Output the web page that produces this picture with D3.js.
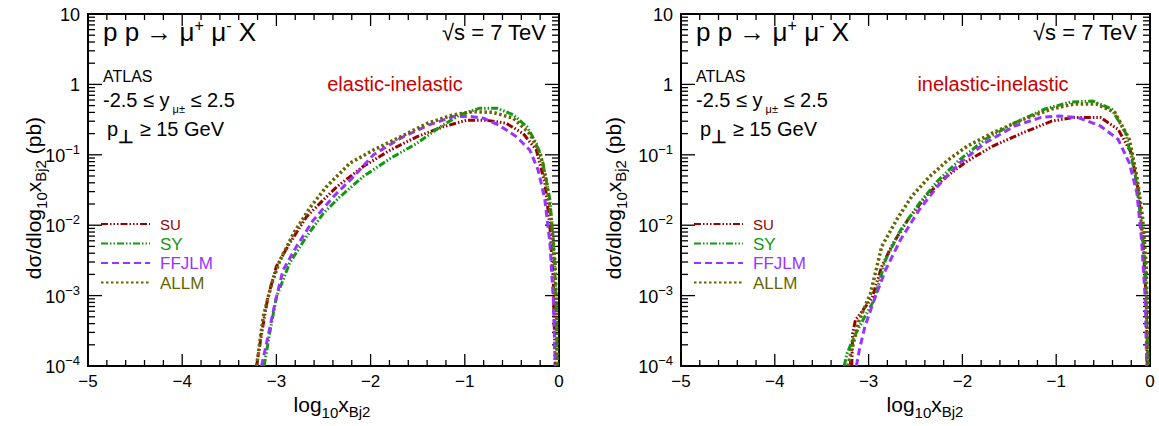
<!DOCTYPE html>
<html>
<head>
<meta charset="utf-8">
<script src="https://cdn.jsdelivr.net/npm/d3@7.9.0/dist/d3.min.js"></script>
<style>
  body { margin: 0; background: #fff; }
  svg { font-family: "Liberation Sans", Arial, sans-serif; }
</style>
</head>
<body>
<svg id="chart" width="1159" height="426"></svg>
<script>
// ---- data (x = log10 xBj2, y in pb) ----
const models = ['SU', 'SY', 'FFJLM', 'ALLM'];
const panelLabels = ['elastic-inelastic', 'inelastic-inelastic'];
const xTicks = [-5, -4, -3, -2, -1, 0];
const yDecades = [-4, -3, -2, -1, 0, 1];

// elastic-inelastic
const elSU_x = [-3.21, -3.157, -3.09, -3.0, -2.86, -2.68, -2.50, -2.36, -2.08, -1.79, -1.51, -1.23, -0.98, -0.77, -0.56, -0.38, -0.24, -0.15, -0.096, -0.06, -0.04];
const elSU_y = [1e-4, 2.9e-4, 9.5e-4, 2.6e-3, 5.5e-3, 0.0132, 0.023, 0.035, 0.068, 0.117, 0.18, 0.25, 0.31, 0.31, 0.28, 0.20, 0.117, 0.040, 9.5e-3, 1.48e-3, 1e-4];
const elSY_x = [-3.13, -3.07, -3.0, -2.86, -2.68, -2.50, -2.33, -2.08, -1.79, -1.51, -1.26, -1.05, -0.84, -0.66, -0.485, -0.34, -0.24, -0.17, -0.096, -0.06, -0.03, -0.02];
const elSY_y = [1e-4, 3.0e-4, 9.5e-4, 2.9e-3, 6.9e-3, 0.0148, 0.025, 0.049, 0.089, 0.145, 0.25, 0.37, 0.46, 0.46, 0.37, 0.25, 0.145, 0.076, 0.023, 5.5e-3, 8.7e-4, 1e-4];
const elFF_x = [-3.157, -3.09, -3.015, -2.93, -2.79, -2.61, -2.40, -2.18, -1.97, -1.69, -1.40, -1.12, -0.945, -0.80, -0.63, -0.45, -0.31, -0.22, -0.15, -0.096, -0.06, -0.04];
const elFF_y = [1e-4, 2.6e-4, 7.8e-4, 2.3e-3, 4.9e-3, 0.0117, 0.025, 0.049, 0.10, 0.17, 0.26, 0.35, 0.35, 0.33, 0.26, 0.18, 0.117, 0.060, 0.023, 5.5e-3, 8.7e-4, 1e-4];
const elAL_x = [-3.21, -3.14, -3.05, -2.96, -2.82, -2.64, -2.47, -2.22, -1.97, -1.72, -1.40, -1.12, -0.91, -0.70, -0.485, -0.31, -0.20, -0.13, -0.078, -0.04, -0.025, -0.02];
const elAL_y = [1e-4, 5.0e-4, 1.48e-3, 3.2e-3, 7.6e-3, 0.018, 0.035, 0.076, 0.117, 0.17, 0.28, 0.37, 0.41, 0.40, 0.33, 0.20, 0.105, 0.040, 0.0107, 2.6e-3, 5.0e-4, 1e-4];

// inelastic-inelastic
const inSU_x = [-3.18, -3.17, -3.14, -3.06, -2.96, -2.86, -2.74, -2.58, -2.39, -2.19, -1.95, -1.68, -1.36, -1.05, -0.81, -0.53, -0.34, -0.20, -0.12, -0.07, -0.04, -0.03];
const inSU_y = [1e-4, 2.9e-4, 4.5e-4, 6.2e-4, 9.5e-4, 2.6e-3, 5.5e-3, 0.012, 0.0257, 0.047, 0.081, 0.132, 0.204, 0.30, 0.34, 0.34, 0.23, 0.107, 0.029, 4.5e-3, 8.7e-4, 1e-4];
const inSY_x = [-3.26, -3.23, -3.155, -3.06, -2.94, -2.82, -2.66, -2.46, -2.27, -2.03, -1.755, -1.44, -1.12, -0.85, -0.61, -0.41, -0.26, -0.16, -0.10, -0.05, -0.02];
const inSY_y = [1e-4, 1.5e-4, 2.6e-4, 4.5e-4, 8.7e-4, 3.2e-3, 8.5e-3, 0.0204, 0.0417, 0.085, 0.166, 0.285, 0.447, 0.56, 0.58, 0.447, 0.204, 0.055, 0.0132, 2.6e-3, 1e-4];
const inFF_x = [-3.13, -3.10, -3.04, -2.94, -2.82, -2.66, -2.46, -2.27, -2.03, -1.755, -1.44, -1.16, -0.97, -0.77, -0.53, -0.34, -0.22, -0.14, -0.09, -0.05, -0.035];
const inFF_y = [1e-4, 1.66e-4, 3.6e-4, 8.7e-4, 2.3e-3, 6.2e-3, 0.0166, 0.035, 0.076, 0.148, 0.257, 0.34, 0.355, 0.34, 0.257, 0.166, 0.076, 0.029, 6.2e-3, 8.7e-4, 1e-4];
const inAL_x = [-3.22, -3.19, -3.10, -2.98, -2.86, -2.70, -2.54, -2.35, -2.15, -1.95, -1.68, -1.36, -1.05, -0.81, -0.57, -0.375, -0.22, -0.14, -0.08, -0.04, -0.02];
const inAL_y = [1e-4, 1.5e-4, 4.5e-4, 1.07e-3, 5.0e-3, 0.012, 0.0257, 0.049, 0.085, 0.132, 0.204, 0.316, 0.447, 0.525, 0.525, 0.40, 0.166, 0.049, 0.0132, 2.6e-3, 1e-4];

const panelSeries = [
  [[elSU_x, elSU_y], [elSY_x, elSY_y], [elFF_x, elFF_y], [elAL_x, elAL_y]],
  [[inSU_x, inSU_y], [inSY_x, inSY_y], [inFF_x, inFF_y], [inAL_x, inAL_y]]
];

const styles = {
  SU:    { color: '#990000', dash: '7,2,1.5,2,1.5,2,1.5,2', width: 3, font: 15 },
  SY:    { color: '#119911', dash: '7,2,1.5,2,1.5,2', width: 3, font: 17 },
  FFJLM: { color: '#9933ff', dash: '7,4', width: 3, font: 17 },
  ALLM:  { color: '#666600', dash: '2.5,2.5', width: 3.5, font: 17 }
};

const svg = d3.select('#chart');
const panels = [
  { left: 88, right: 559, ytitle: 41, label: 395 },
  { left: 681, right: 1150, ytitle: 621, label: 993 }
];
const plotTop = 14, plotBottom = 366;

panels.forEach((p, pi) => {
  const x = d3.scaleLinear().domain([-5, 0]).range([p.left, p.right]);
  const y = d3.scaleLog().domain([1e-4, 10]).range([plotBottom, plotTop]);
  const g = svg.append('g');

  // clip
  const clipId = 'clip' + pi;
  svg.append('clipPath').attr('id', clipId)
    .append('rect').attr('x', p.left).attr('y', plotTop)
    .attr('width', p.right - p.left).attr('height', plotBottom - plotTop);

  // x ticks (bottom & top, inward)
  const xMinor = d3.range(-5, 0.001, 0.2).map(v => Math.round(v * 10) / 10);
  xMinor.forEach(v => {
    const major = Math.abs(v - Math.round(v)) < 1e-6;
    const len = major ? 12 : 6;
    g.append('line').attr('x1', x(v)).attr('x2', x(v)).attr('y1', plotBottom).attr('y2', plotBottom - len)
      .attr('stroke', '#000').attr('stroke-width', 1.3);
    g.append('line').attr('x1', x(v)).attr('x2', x(v)).attr('y1', plotTop).attr('y2', plotTop + len)
      .attr('stroke', '#000').attr('stroke-width', 1.3);
  });

  // y ticks (left & right, inward), log minor ticks
  yDecades.forEach(d => {
    const base = Math.pow(10, d);
    const ks = d === 1 ? [1] : [1, 2, 3, 4, 5, 6, 7, 8, 9];
    ks.forEach(k => {
      const v = k * base;
      const len = k === 1 ? 14 : 7;
      g.append('line').attr('x1', p.left).attr('x2', p.left + len).attr('y1', y(v)).attr('y2', y(v))
        .attr('stroke', '#000').attr('stroke-width', 1.3);
      g.append('line').attr('x1', p.right).attr('x2', p.right - len).attr('y1', y(v)).attr('y2', y(v))
        .attr('stroke', '#000').attr('stroke-width', 1.3);
    });
  });

  // frame
  g.append('rect').attr('x', p.left).attr('y', plotTop)
    .attr('width', p.right - p.left).attr('height', plotBottom - plotTop)
    .attr('fill', 'none').attr('stroke', '#000').attr('stroke-width', 2);

  // x tick labels
  xTicks.forEach(v => {
    g.append('text').attr('x', x(v)).attr('y', plotBottom + 21)
      .attr('text-anchor', 'middle').attr('font-size', 17)
      .text(v < 0 ? '\u2212' + Math.abs(v) : v);
  });

  // y tick labels
  yDecades.forEach(d => {
    const t = g.append('text').attr('x', p.left - 8).attr('y', y(Math.pow(10, d)) + 7)
      .attr('text-anchor', 'end').attr('font-size', 18);
    if (d === 0) t.text('1');
    else if (d === 1) t.text('10');
    else {
      t.append('tspan').text('10');
      t.append('tspan').attr('dy', -8).attr('font-size', 13).text('\u2212' + Math.abs(d));
    }
  });

  // axis titles
  const xt = g.append('text').attr('x', p.left + 244).attr('y', 412)
    .attr('text-anchor', 'middle').attr('font-size', 21);
  xt.append('tspan').text('log');
  xt.append('tspan').attr('dy', 6).attr('font-size', 15).text('10');
  xt.append('tspan').attr('dy', -6).text('x');
  xt.append('tspan').attr('dy', 5).attr('font-size', 15).text('Bj2');

  const yt = g.append('text')
    .attr('transform', `translate(${p.ytitle},${198}) rotate(-90)`)
    .attr('text-anchor', 'middle').attr('font-size', 21);
  yt.append('tspan').text('d\u03c3/dlog');
  yt.append('tspan').attr('dy', 6).attr('font-size', 15).text('10');
  yt.append('tspan').attr('dy', -6).text('x');
  yt.append('tspan').attr('dy', 5).attr('font-size', 15).text('Bj2');
  yt.append('tspan').attr('dy', -5).text(' (pb)');

  // process label
  const pr = g.append('text').attr('x', p.left + 15).attr('y', 41).attr('font-size', 26);
  pr.append('tspan').text('p p \u2192 \u03bc');
  pr.append('tspan').attr('dy', -10).attr('font-size', 16).text('+');
  pr.append('tspan').attr('dy', 10).text(' \u03bc');
  pr.append('tspan').attr('dy', -10).attr('font-size', 16).text('-');
  pr.append('tspan').attr('dy', 10).text(' X');

  g.append('text').attr('x', p.right - 13).attr('y', 40).attr('text-anchor', 'end')
    .attr('font-size', 22).text('\u221as = 7 TeV');

  // cuts
  g.append('text').attr('x', p.left + 15).attr('y', 82).attr('font-size', 16).text('ATLAS');
  const cy = g.append('text').attr('x', p.left + 15).attr('y', 107).attr('font-size', 20);
  cy.append('tspan').text('-2.5 \u2264 y');
  cy.append('tspan').attr('dy', 6).attr('font-size', 11).text(' \u03bc\u00b1');
  cy.append('tspan').attr('dy', -6).text('  \u2264 2.5');
  const cp = g.append('text').attr('x', p.left + 19).attr('y', 136).attr('font-size', 20);
  cp.append('tspan').text('p');
  cp.append('tspan').attr('dy', 7).attr('font-size', 18).attr('font-weight', 'bold').text('\u22a5');
  cp.append('tspan').attr('dy', -7).text(' \u2265 15 GeV');

  g.append('text').attr('x', p.label).attr('y', 91).attr('text-anchor', 'middle')
    .attr('font-size', 20).attr('fill', '#cc0000').text(panelLabels[pi]);

  // curves
  const line = d3.line().x(d => x(d[0])).y(d => y(d[1]));
  const cg = g.append('g').attr('clip-path', `url(#${clipId})`);
  panelSeries[pi].forEach(([xs, ys], i) => {
    const st = styles[models[i]];
    cg.append('path').datum(xs.map((v, j) => [v, ys[j]]))
      .attr('d', line).attr('fill', 'none')
      .attr('stroke', st.color).attr('stroke-width', st.width)
      .attr('stroke-dasharray', st.dash);
  });

  // legend
  models.forEach((m, i) => {
    const st = styles[m];
    const ly = 224 + i * 19.5;
    g.append('line').attr('x1', p.left + 13).attr('x2', p.left + 62).attr('y1', ly).attr('y2', ly)
      .attr('stroke', st.color).attr('stroke-width', 2.2).attr('stroke-dasharray', st.dash);
    g.append('text').attr('x', p.left + 72).attr('y', ly + 6).attr('font-size', st.font)
      .attr('fill', st.color).text(m);
  });
});
</script>
</body>
</html>
